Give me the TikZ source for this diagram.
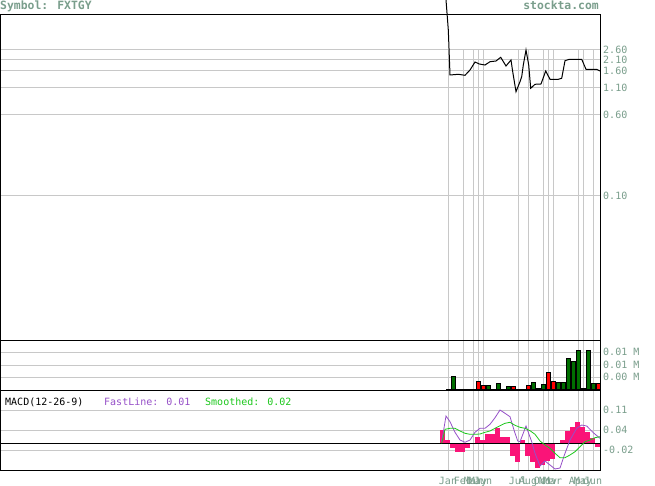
\documentclass[tikz,border=0pt]{standalone}
\usepackage{fontspec}
\usepackage{tikz}
\newfontfamily\chartfont{DejaVu Sans Mono}
\definecolor{labelgray}{RGB}{122,158,140}
\definecolor{gridgray}{RGB}{200,200,200}
\definecolor{volgreen}{RGB}{0,110,0}
\definecolor{volred}{RGB}{255,0,0}
\definecolor{histpink}{RGB}{250,20,120}
\definecolor{fastpurple}{RGB}{150,80,200}
\definecolor{smoothgreen}{RGB}{30,200,30}
\tikzstyle{gridline} = [gridgray, line width=1pt]
\tikzstyle{panelframe} = [black, line width=1pt]
\tikzstyle{axislabel} = [labelgray, anchor=west, inner sep=0pt, font=\chartfont\fontsize{10}{10}\selectfont]
\tikzstyle{datelabel} = [labelgray, anchor=base, inner sep=0pt, font=\chartfont\fontsize{10}{10}\selectfont]
\tikzstyle{headlabel} = [labelgray, inner sep=0pt, font=\chartfont\bfseries\fontsize{11.4}{11.4}\selectfont]
\tikzstyle{legend} = [anchor=base west, inner sep=0pt, font=\chartfont\fontsize{10}{10}\selectfont]
\tikzstyle{volbar} = [draw=black, line width=0.6pt]

\begin{document}
\begin{tikzpicture}[x=1pt, y=-1pt]
\useasboundingbox (0,0) rectangle (655,486);
\fill[white] (0,0) rectangle (655,486);

\node[headlabel, anchor=base west] (symbol) at (0,10) {Symbol: FXTGY};
\node[headlabel, anchor=base east] (site) at (599,10) {stockta.com};

% month grid
\foreach \x in {448, 463, 473, 478, 483, 518, 528, 543, 548, 553, 578, 583, 593} {
    \draw[gridline] (\x,50) -- (\x,470);
}

% price panel
\foreach \y/\val [count=\i] in {50/2.60, 60/2.10, 71/1.60, 88/1.10, 115/0.60, 196/0.10} {
    \draw[gridline] (0.5,\y) -- (600,\y);
    \node[axislabel] (price\i) at (603,\y) {\val};
}
\draw[black, line width=1pt] plot coordinates {(446,0) (448.3,30) (450,75) (458.3,74.3) (465,75.3)
    (470,70) (475,62) (479.3,64) (485,65) (490,61.7) (496,61) (500.7,57.3) (506,66) (511,60)
    (512.7,71.7) (516,91.7) (520,81.7) (521.7,76.7) (523.3,65) (526,50) (528.7,65) (530.7,88.3)
    (535,84.3) (541,84) (545.7,71) (550,79.3) (558.3,79.3) (561.7,78.3) (565,60.7) (569.3,59.3)
    (581.7,59.3) (586,69.3) (596.7,69.3) (600,71)};
\draw[panelframe] (0.5,15) rectangle (600,340);

% volume panel
\foreach \y/\val [count=\i] in {352/0.01 M, 365/0.01 M, 377/0.00 M} {
    \draw[gridline] (0.5,\y) -- (600,\y);
    \node[axislabel] (vol\i) at (603,\y) {\val};
}
\draw[black, line width=0.6pt] (446,389.5) -- (600,389.5);
\foreach \x/\top/\c in {451/376/volgreen, 476/381/volred, 481/385.3/volred, 486/385.3/volgreen,
    496/383.3/volgreen, 506/386.3/volgreen, 511/386.3/volred, 526/385.3/volred, 531/382.3/volgreen,
    536/388.3/volgreen, 541/384.3/volgreen, 546/372.3/volred, 551/381.3/volred, 556/382.3/volgreen,
    561/382.3/volgreen, 566/358.3/volgreen, 571/361/volgreen, 576/350.3/volgreen, 581/388.3/volred,
    586/350.3/volgreen, 591/383.3/volgreen, 596/383.3/volred} {
    \filldraw[volbar, fill=\c] (\x,\top) rectangle (\x+4.5,389.5);
}
\draw[panelframe] (0.5,340) rectangle (600,390);

% macd panel
\foreach \y/\val [count=\i] in {410/0.11, 430/0.04, 450/-0.02} {
    \draw[gridline] (0.5,\y) -- (600,\y);
    \node[axislabel] (macd\i) at (603,\y) {\val};
}
\foreach \x/\v in {440/430, 445/440, 450/448.3, 455/452.3, 460/452.3, 465/448.3, 475/436.7,
    480/440, 485/434.3, 490/434.3, 495/428.3, 500/436.7, 505/436.7, 510/456, 515/461.7, 520/440,
    525/455.7, 530/461.7, 535/467.5, 540/465, 545/461, 550/459, 560/440, 565/430.5, 570/427,
    575/422, 580/427, 585/432, 590/438, 595/446.7} {
    \fill[histpink] (\x,443) rectangle (\x+5,\v);
}
\draw[black, line width=1pt] (0.5,443) -- (600,443);
\draw[fastpurple, line width=0.8pt] plot coordinates {(441.7,441.7) (446,416) (450,421.7)
    (455,432.3) (460,440) (465,442.3) (470,440) (475,432.3) (480,428.3) (485,428.3) (490,424.3)
    (495,417.7) (500,410) (505,413.3) (510,416.7) (514.3,431) (517.7,441) (520,441.7) (526,426)
    (531.7,441.7) (535,453.3) (540,466) (545,461) (550,465) (555,469) (560,468) (564,456)
    (570,440) (576.7,428.3) (581.7,425) (586.7,426) (593.3,432.7) (600,438.3)};
\draw[smoothgreen, line width=0.8pt] plot coordinates {(441.7,443.3) (445,429.3) (450,428.3)
    (455,428.3) (460,431) (465,433.3) (470,434.3) (475,434.3) (480,434) (485,432.3) (490,431)
    (495,428.3) (500,425.7) (505,423.3) (510,422.3) (515,425.3) (520,427.3) (525,428.3)
    (530,430.7) (535,434.3) (540,441) (545,445) (550,448.3) (555,453.3) (560,457.7) (565,457.7)
    (570,455) (575,451.7) (580,446.7) (585,441.7) (590,440) (595,437.7) (600,436.7)};
\draw[panelframe] (0.5,390) rectangle (600,470);
\node[legend] (macdname) at (5,405) {MACD(12-26-9)};
\node[legend, fastpurple] (fastline) at (104,405) {FastLine: 0.01};
\node[legend, smoothgreen] (smoothed) at (205,405) {Smoothed: 0.02};

% months
\foreach \x/\m [count=\i] in {448/Jan, 463/Feb, 473/Mar, 478/May, 483/Jun, 518/Jul, 528/Aug,
    543/Oct, 548/Nov, 553/Mar, 578/Apr, 583/May, 593/Jun} {
    \node[datelabel] (month\i) at (\x,484.5) {\m};
}
\end{tikzpicture}
\end{document}
